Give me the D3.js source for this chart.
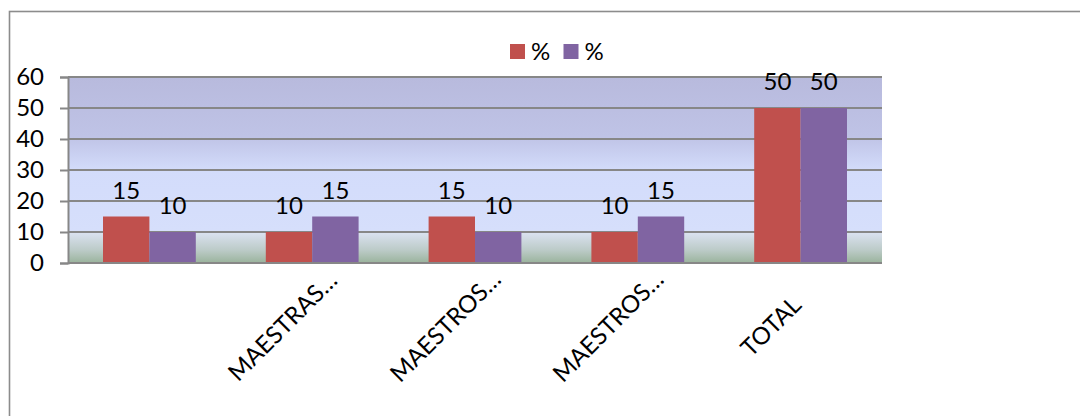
<!DOCTYPE html>
<html>
<head>
<meta charset="utf-8">
<script src="https://cdn.jsdelivr.net/npm/d3@7"></script>
<style>
  html, body { margin: 0; padding: 0; background: #fff; }
  svg { display: block; font-family: Lato, "Open Sans", "Liberation Sans", sans-serif; }
</style>
</head>
<body>
<svg id="chart" width="1080" height="416"></svg>
<script>
// Chart data
const categories = ["", "MAESTRAS…", "MAESTROS…", "MAESTROS…", "TOTAL"];
const seriesNames = ["%", "%"];
const seriesA = [15, 10, 15, 10, 50];
const seriesB = [10, 15, 10, 15, 50];
const yTicks = [0, 10, 20, 30, 40, 50, 60];
const seriesColors = ["#c0504d", "#8064a2"];

const svg = d3.select("#chart");
const W = 1080, H = 416;
const plot = { left: 68, right: 882, top: 77, bottom: 263 };
const fontSize = 24;

// Outer chart frame (runs past the right and bottom edges)
svg.append("rect")
  .attr("x", 9.5).attr("y", 11.5)
  .attr("width", W + 20).attr("height", H + 20)
  .attr("fill", "#fff")
  .attr("stroke", "#8c8c8c").attr("stroke-width", 1.6);

const x0 = d3.scaleBand().domain(d3.range(categories.length))
  .range([plot.left, plot.right]).paddingInner(0).paddingOuter(0);
const groupFrac = 0.57;
const x1 = d3.scaleBand().domain([0, 1])
  .range([0, x0.bandwidth() * groupFrac]);
const y = d3.scaleLinear().domain([0, 60]).range([plot.bottom, plot.top]);

// Plot area gradient fill
const defs = svg.append("defs");
const grad = defs.append("linearGradient").attr("id", "plotFill")
  .attr("x1", 0).attr("y1", 0).attr("x2", 0).attr("y2", 1);
[
  [0, "#b8badd"], [0.32, "#bfc3e6"], [0.5, "#d3dcfb"],
  [0.83, "#d6dffb"], [0.835, "#dbe2f1"], [0.93, "#bccbc8"], [1, "#9ab39c"]
].forEach(([o, c]) => grad.append("stop").attr("offset", o).attr("stop-color", c));

svg.append("rect")
  .attr("x", plot.left).attr("y", plot.top)
  .attr("width", plot.right - plot.left).attr("height", plot.bottom - plot.top)
  .attr("fill", "url(#plotFill)");

// Gridlines and y axis
const yAxis = d3.axisLeft(y).tickValues(yTicks).tickSize(8).tickPadding(16);
const gy = svg.append("g").attr("transform", `translate(${plot.left},0)`).call(yAxis);
gy.select(".domain").attr("stroke", "#878787").attr("stroke-width", 2);
gy.selectAll(".tick line").attr("stroke", "#878787").attr("stroke-width", 2);
gy.selectAll(".tick text").attr("font-size", fontSize).attr("fill", "#000")
  .attr("font-family", "Lato, 'Open Sans', sans-serif");

svg.append("g").selectAll("line").data(yTicks.filter(d => d > 0)).join("line")
  .attr("x1", plot.left).attr("x2", plot.right)
  .attr("y1", d => y(d)).attr("y2", d => y(d))
  .attr("stroke", "#878787").attr("stroke-width", 2);

// Bars
const groups = svg.append("g").selectAll("g").data(categories.map((c, i) => i)).join("g")
  .attr("transform", i => `translate(${x0(i) + x0.bandwidth() * (1 - groupFrac) / 2},0)`);

const rows = i => [seriesA[i], seriesB[i]];
groups.selectAll("rect").data(i => rows(i).map((v, s) => ({ v, s }))).join("rect")
  .attr("x", d => x1(d.s))
  .attr("y", d => y(d.v))
  .attr("width", x1.bandwidth())
  .attr("height", d => y(0) - y(d.v))
  .attr("fill", d => seriesColors[d.s]);

// Value labels
groups.selectAll("text").data(i => rows(i).map((v, s) => ({ v, s }))).join("text")
  .attr("x", d => x1(d.s) + x1.bandwidth() / 2)
  .attr("y", d => y(d.v) - 18)
  .attr("text-anchor", "middle")
  .attr("font-size", fontSize).attr("fill", "#000")
  .text(d => d.v);

// Bottom axis line
svg.append("line")
  .attr("x1", plot.left).attr("x2", plot.right)
  .attr("y1", plot.bottom).attr("y2", plot.bottom)
  .attr("stroke", "#878787").attr("stroke-width", 2);

// Rotated category labels
svg.append("g").selectAll("text").data(categories.map((c, i) => i)).join("text")
  .attr("transform", i => `translate(${x0(i) + x0.bandwidth() / 2 - 28},328) rotate(-45)`)
  .attr("text-anchor", "middle")
  .attr("dominant-baseline", "middle")
  .attr("font-size", fontSize).attr("fill", "#000")
  .text(i => categories[i]);

// Legend
const legend = svg.append("g").attr("transform", "translate(510,44)");
seriesNames.forEach((name, s) => {
  const g = legend.append("g").attr("transform", `translate(${s * 53.5},0)`);
  g.append("rect").attr("width", 15).attr("height", 15).attr("fill", seriesColors[s]);
  g.append("text").attr("x", 21).attr("y", 16)
    .attr("font-size", fontSize).attr("fill", "#000").text(name);
});
</script>
</body>
</html>
